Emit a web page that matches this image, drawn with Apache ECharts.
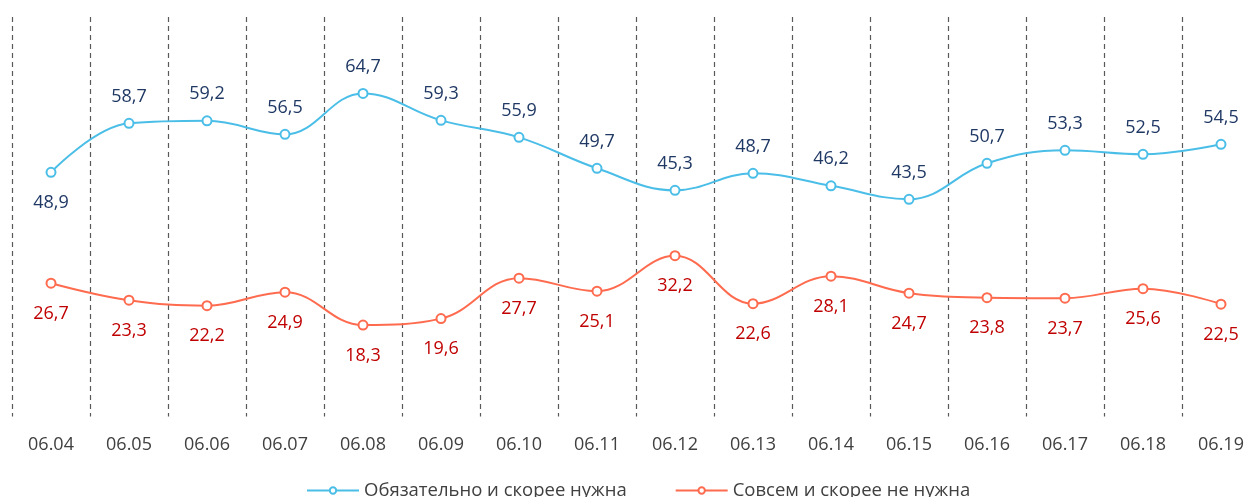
<!DOCTYPE html>
<html>
<head>
<meta charset="utf-8">
<script src="https://cdn.jsdelivr.net/npm/echarts@6/dist/echarts.min.js"></script>
<style>
  html, body { margin: 0; padding: 0; background: #fff; }
  #chart { width: 1254px; height: 497px; }
</style>
</head>
<body>
<div id="chart"></div>
<script>
const dates = ['06.04', '06.05', '06.06', '06.07', '06.08', '06.09', '06.10', '06.11',
  '06.12', '06.13', '06.14', '06.15', '06.16', '06.17', '06.18', '06.19'];
const needName = 'Обязательно и скорее нужна';
const needValues = [48.9, 58.7, 59.2, 56.5, 64.7, 59.3, 55.9, 49.7, 45.3, 48.7, 46.2, 43.5, 50.7, 53.3, 52.5, 54.5];
const noNeedName = 'Совсем и скорее не нужна';
const noNeedValues = [26.7, 23.3, 22.2, 24.9, 18.3, 19.6, 27.7, 25.1, 32.2, 22.6, 28.1, 24.7, 23.8, 23.7, 25.6, 22.5];

const FONT = '"Open Sans", "Noto Sans", sans-serif';
const BLUE = '#4bbee8';
const RED = '#ff6b4f';

const fmt = p => String(p.value).replace('.', ',');

const chart = echarts.init(document.getElementById('chart'), null, {renderer: 'canvas'});

// first blue point has its label below the line
const needData = needValues.map((v, i) => i === 0
  ? {value: v, label: {position: 'bottom', distance: 16}}
  : v);

const option = {
  animation: false,
  textStyle: {fontFamily: FONT},
  grid: {left: 12, top: 17, width: 1248, bottom: 80.5, containLabel: false, outerBoundsMode: 'none'},
  legend: {
    top: 476,
    left: 301,
    itemGap: 48,
    itemWidth: 52,
    itemHeight: 8,
    textStyle: {fontSize: 18.5, color: '#404040', fontFamily: FONT},
    data: [needName, noNeedName]
  },
  xAxis: {
    type: 'category',
    data: dates,
    boundaryGap: true,
    axisLine: {show: false},
    axisTick: {show: false},
    axisLabel: {fontSize: 18, color: '#404040', margin: 19, fontFamily: FONT},
    splitLine: {
      show: true,
      lineStyle: {color: '#595959', type: [5, 4], width: 1.2}
    }
  },
  yAxis: {
    type: 'value',
    min: 0,
    max: 80,
    show: false,
    splitLine: {show: false}
  },
  series: [
    {
      name: needName,
      type: 'line',
      smooth: 0.4,
      data: needData,
      symbol: 'circle',
      symbolSize: 9,
      lineStyle: {color: BLUE, width: 2},
      itemStyle: {color: '#fff', borderColor: BLUE, borderWidth: 2},
      label: {
        show: true,
        position: 'top',
        distance: 12,
        fontSize: 18,
        color: '#1f3864',
        fontFamily: FONT,
        formatter: fmt
      }
    },
    {
      name: noNeedName,
      type: 'line',
      smooth: 0.4,
      data: noNeedValues,
      symbol: 'circle',
      symbolSize: 9,
      lineStyle: {color: RED, width: 2},
      itemStyle: {color: '#fff', borderColor: RED, borderWidth: 2},
      label: {
        show: true,
        position: 'bottom',
        distance: 16,
        fontSize: 18,
        color: '#c00000',
        fontFamily: FONT,
        formatter: fmt
      }
    }
  ]
};

chart.setOption(option);
</script>
</body>
</html>
